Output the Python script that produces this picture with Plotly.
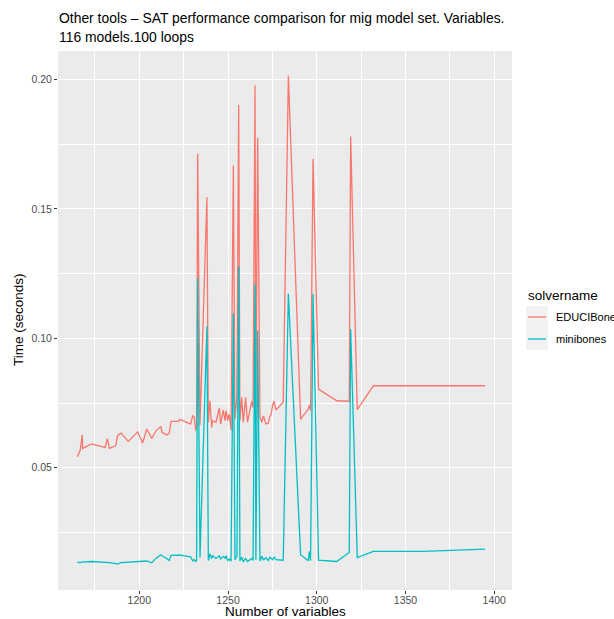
import plotly.graph_objects as go

# ---- data ----
num_vars = [1165.1, 1166.6, 1167.9, 1168.1, 1173.2, 1180.7, 1182.0, 1183.1, 1186.7, 1187.8,
            1189.7, 1193.8, 1199.1, 1201.9, 1204.2, 1207.0, 1209.4, 1212.2, 1212.8, 1215.4,
            1216.9, 1217.9, 1222.0, 1222.9, 1228.9, 1230.1, 1231.0, 1231.8, 1232.3, 1232.9,
            1234.2, 1238.1, 1238.9, 1239.8, 1240.8, 1241.3, 1243.2, 1245.1, 1245.8, 1247.3,
            1248.3, 1248.8, 1249.8, 1250.7, 1251.7, 1253.0, 1253.9, 1255.0, 1256.0, 1256.7,
            1257.7, 1258.6, 1259.9, 1261.0, 1263.3, 1264.1, 1265.2, 1265.7, 1266.7, 1268.0,
            1269.1, 1269.9, 1271.4, 1272.7, 1273.6, 1274.2, 1275.1, 1275.9, 1277.0, 1281.1,
            1284.0, 1290.9, 1295.2, 1295.8, 1296.5, 1297.9, 1301.0, 1311.2, 1318.3, 1319.1,
            1322.8, 1331.9, 1360.0, 1394.8]

educibone = [0.0543, 0.0566, 0.0627, 0.0575, 0.0592, 0.0579, 0.0613, 0.0575, 0.0585, 0.0624,
             0.0634, 0.0602, 0.0639, 0.0596, 0.0650, 0.0613, 0.0643, 0.0660, 0.0637, 0.0627,
             0.0634, 0.0679, 0.0679, 0.0687, 0.0669, 0.0701, 0.0695, 0.0643, 0.0663, 0.1713,
             0.0665, 0.1545, 0.0676, 0.0759, 0.0656, 0.0682, 0.0676, 0.0731, 0.0669, 0.0723,
             0.0682, 0.0721, 0.0682, 0.0708, 0.0646, 0.1668, 0.0688, 0.0772, 0.1902, 0.0682,
             0.0772, 0.0676, 0.0772, 0.0676, 0.0757, 0.0733, 0.1977, 0.0682, 0.1775, 0.0695,
             0.0676, 0.0701, 0.0669, 0.0672, 0.0701, 0.0704, 0.0740, 0.0757, 0.0723, 0.0753,
             0.2015, 0.0688, 0.0727, 0.0742, 0.0721, 0.1693, 0.0804, 0.0759, 0.0757, 0.1780,
             0.0725, 0.0817, 0.0817, 0.0817]

minibones = [0.0137, 0.0133, 0.0137, 0.0136, 0.0138, 0.0137, 0.0136, 0.0134, 0.0130, 0.0128,
             0.0134, 0.0135, 0.0138, 0.0139, 0.0140, 0.0133, 0.0150, 0.0164, 0.0160, 0.0150,
             0.0142, 0.0162, 0.0164, 0.0163, 0.0156, 0.0141, 0.0145, 0.0138, 0.0142, 0.1232,
             0.0154, 0.1047, 0.0142, 0.0167, 0.0150, 0.0160, 0.0150, 0.0160, 0.0148, 0.0158,
             0.0150, 0.0160, 0.0142, 0.0147, 0.0140, 0.1095, 0.0145, 0.0160, 0.1277, 0.0140,
             0.0155, 0.0137, 0.0150, 0.0138, 0.0150, 0.0142, 0.1208, 0.0145, 0.1030, 0.0140,
             0.0158, 0.0145, 0.0152, 0.0142, 0.0155, 0.0150, 0.0145, 0.0155, 0.0145, 0.0143,
             0.1172, 0.0164, 0.0141, 0.0177, 0.0141, 0.1172, 0.0143, 0.0138, 0.0173, 0.1035,
             0.0153, 0.0177, 0.0177, 0.0186]

series_names = ["EDUCIBone", "minibones"]
series_colors = ["#F8766D", "#00BFC4"]
x_ticks = [1200, 1250, 1300, 1350, 1400]
y_ticks = [0.05, 0.10, 0.15, 0.20]

title_lines = ["Other tools \u2013 SAT performance comparison for mig model set. Variables.",
               "116 models.100 loops"]

# ---- layout geometry (pixels) ----
W, H = 614, 619
PL, PR, PT, PB = 58, 512, 51, 590
FONT = "Liberation Sans, Arial, Helvetica, sans-serif"


def px_x(p):
    return (p - PL) / (PR - PL)


def px_y(p):
    return (PB - p) / (PB - PT)


fig = go.Figure()
for name, vals, col in zip(series_names, [educibone, minibones], series_colors):
    fig.add_trace(go.Scatter(x=num_vars, y=vals, mode="lines", name=name,
                             line=dict(color=col, width=1.3), showlegend=False))

axis_common = dict(
    showgrid=True, gridcolor="white", gridwidth=1.2,
    zeroline=False, showline=False,
    ticks="outside", ticklen=3, tickwidth=1, tickcolor="#333333",
    tickfont=dict(family=FONT, size=10.5, color="#4D4D4D"),
    automargin=False,
)

fig.update_xaxes(range=[1154.2, 1410.0], tickvals=x_ticks,
                 ticktext=[str(t) for t in x_ticks], ticklabelstandoff=-3,
                 minor=dict(tickvals=[1175, 1225, 1275, 1325, 1375], showgrid=True,
                            gridcolor="white", gridwidth=0.6),
                 **axis_common)
fig.update_yaxes(range=[0.0028, 0.2110], tickvals=y_ticks,
                 ticktext=["%.2f" % t for t in y_ticks],
                 minor=dict(tickvals=[0.025, 0.075, 0.125, 0.175], showgrid=True,
                            gridcolor="white", gridwidth=0.6),
                 **axis_common)

annotations = []
for line, yy in zip(title_lines, [18, 37]):
    annotations.append(dict(text=line, x=px_x(57), y=px_y(yy), xref="paper", yref="paper",
                            xanchor="left", yanchor="middle", align="left", showarrow=False,
                            font=dict(family=FONT, size=13.9, color="black")))
annotations += [
    dict(text="Number of variables", x=px_x(285), y=px_y(611.5), xref="paper", yref="paper",
         xanchor="center", yanchor="middle", showarrow=False, borderpad=0,
         font=dict(family=FONT, size=13.5, color="black")),
    dict(text="Time (seconds)", x=px_x(18), y=px_y(320), xref="paper", yref="paper",
         xanchor="center", yanchor="middle", textangle=-90, showarrow=False,
         font=dict(family=FONT, size=13.5, color="black")),
    dict(text="solvername", x=px_x(526), y=px_y(295), xref="paper", yref="paper",
         xanchor="left", yanchor="middle", showarrow=False,
         font=dict(family=FONT, size=13.5, color="black")),
]

shapes = [
    dict(type="rect", xref="paper", yref="paper", x0=px_x(526), x1=px_x(548),
         y0=px_y(306), y1=px_y(350), fillcolor="#F2F2F2", line=dict(width=0), layer="below"),
]
legend_rows = [317, 339]
for name, col, yy in zip(series_names, series_colors, legend_rows):
    shapes.append(dict(type="line", xref="paper", yref="paper", x0=px_x(528), x1=px_x(546),
                       y0=px_y(yy), y1=px_y(yy), line=dict(color=col, width=1.3)))
    annotations.append(dict(text=name, x=px_x(554), y=px_y(yy), xref="paper", yref="paper",
                            xanchor="left", yanchor="middle", showarrow=False,
                            font=dict(family=FONT, size=11, color="black")))

fig.update_layout(
    width=W, height=H,
    margin=dict(l=PL, r=W - PR, t=PT, b=H - PB, pad=0),
    paper_bgcolor="white", plot_bgcolor="#EBEBEB",
    annotations=annotations, shapes=shapes,
    showlegend=False,
)

fig.write_html("out.html")
